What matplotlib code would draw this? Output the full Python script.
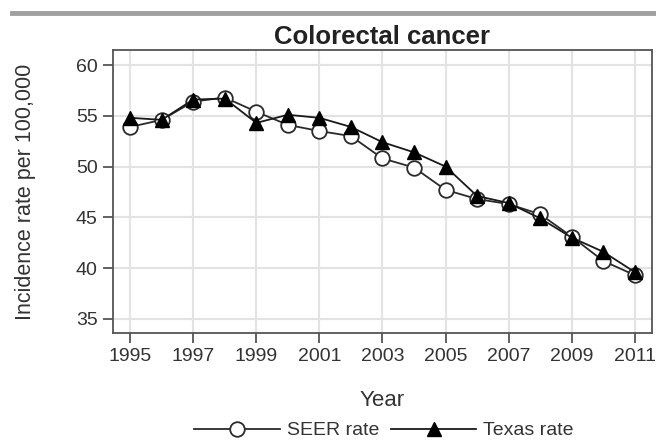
import matplotlib
matplotlib.use("Agg")
import matplotlib.pyplot as plt
from matplotlib.lines import Line2D

plt.rcParams['font.family'] = ['Liberation Sans', 'DejaVu Sans']

years = list(range(1995, 2012))
seer_rate = [53.9, 54.6, 56.4, 56.8, 55.4, 54.1, 53.5, 53.0, 50.8, 49.9, 47.7, 46.8, 46.3, 45.3, 43.1, 40.7, 39.3]
texas_rate = [54.8, 54.6, 56.6, 56.7, 54.3, 55.1, 54.8, 53.9, 52.4, 51.4, 50.0, 47.1, 46.4, 44.9, 43.0, 41.6, 39.6]
x_ticks = list(range(1995, 2012, 2))
y_ticks = [35, 40, 45, 50, 55, 60]

txt = '#333333'
fig = plt.figure(figsize=(6.56, 4.41), dpi=100)
ax = fig.add_axes([0.172, 0.245, 0.822, 0.642])

# gray bar across the top
fig.add_artist(Line2D([0.018, 1.0], [0.970, 0.970], color='#a0a0a0', linewidth=3.5))

ax.plot(years, seer_rate, color='#2a2a2a', linewidth=1.3, marker='o', markersize=10.5,
        markerfacecolor='white', markeredgecolor='#2a2a2a', markeredgewidth=1.3, label='SEER rate', zorder=3)
ax.plot(years, texas_rate, color='#1a1a1a', linewidth=1.3, marker='^', markersize=10,
        markerfacecolor='black', markeredgecolor='black', label='Texas rate', zorder=4)

ax.set_xlim(1994.45, 2011.55)
ax.set_ylim(33.6, 61.5)
ax.set_xticks(x_ticks)
ax.set_yticks(y_ticks)
ax.grid(True, color='#e3e3e3', linewidth=1.5)
ax.set_axisbelow(True)
for s in ax.spines.values():
    s.set_color('#555555')
    s.set_linewidth(1.3)
ax.tick_params(axis='both', direction='out', length=7, width=1.3, color='#555555',
               labelsize=14, labelcolor=txt)
ax.tick_params(axis='x', pad=4)
ax.tick_params(axis='y', pad=4)

ax.set_title('Colorectal cancer', fontsize=18.5, fontweight='bold', color='#222222', pad=4)
ax.set_xlabel('Year', fontsize=16, color=txt)
ax.xaxis.set_label_coords(0.5, -0.20)
ax.set_ylabel('Incidence rate per 100,000', fontsize=15.5, color=txt, va='center')
ax.yaxis.set_label_coords(-0.162, 0.5)

ax.legend(loc='center', bbox_to_anchor=(0.503, -0.345), ncol=2, frameon=False,
          fontsize=14, labelcolor=txt, handlelength=4.4, columnspacing=0.6, handletextpad=0.35)

fig.savefig('out.png', dpi=100)
